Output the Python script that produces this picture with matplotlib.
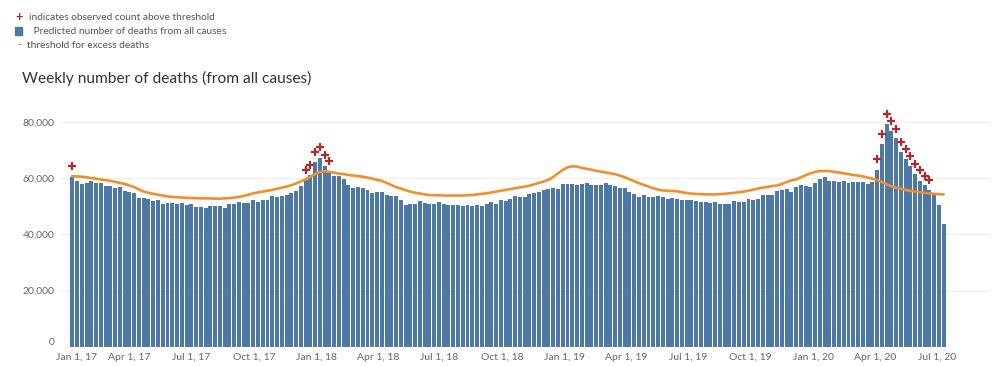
import pandas as pd
import matplotlib
matplotlib.use('Agg')
import matplotlib.pyplot as plt
from matplotlib.patches import Rectangle
from matplotlib.transforms import ScaledTranslation

plt.rcParams['font.family'] = ['Lato', 'DejaVu Sans']

# weekly data, week ending dates starting here (values in thousands)
first_week = '2017-01-07'

predicted = [
    60.5, 59.1, 57.9, 58.4, 59.0, 58.4, 58.2, 57.1, 57.3, 56.5,
    56.8, 55.4, 55.0, 54.7, 52.9, 53.1, 52.6, 51.9, 52.3, 50.8,
    51.0, 51.2, 50.8, 51.0, 50.5, 50.8, 49.7, 49.9, 49.3, 50.0,
    50.0, 50.0, 49.4, 50.7, 50.7, 51.5, 51.0, 51.3, 52.1, 51.6,
    52.1, 52.3, 53.6, 53.2, 53.6, 53.9, 54.7, 55.4, 57.2, 59.3,
    61.1, 65.7, 67.0, 64.4, 62.5, 60.9, 60.9, 59.6, 57.4, 56.6,
    56.9, 56.4, 55.8, 54.8, 55.2, 54.9, 53.9, 53.5, 53.5, 52.2,
    50.4, 50.7, 50.7, 51.7, 51.2, 50.9, 50.7, 51.5, 50.9, 50.4,
    50.6, 50.4, 50.2, 50.3, 50.2, 50.3, 50.2, 50.9, 51.4, 50.7,
    52.2, 51.7, 52.6, 53.5, 53.3, 53.3, 54.4, 54.6, 54.9, 55.8,
    56.2, 56.4, 56.0, 57.9, 57.9, 57.9, 57.7, 57.9, 58.1, 57.7,
    57.7, 57.7, 58.1, 57.7, 57.2, 56.5, 56.4, 55.2, 54.2, 53.4,
    53.9, 53.4, 53.4, 53.5, 53.4, 52.6, 53.0, 52.6, 52.1, 52.1,
    52.2, 51.7, 51.5, 51.5, 51.2, 51.4, 50.7, 50.7, 50.9, 51.7,
    51.5, 51.5, 52.5, 52.3, 52.7, 54.1, 53.9, 53.9, 55.4, 55.8,
    56.0, 55.2, 56.7, 57.4, 57.3, 56.9, 58.1, 59.7, 60.3, 59.0,
    59.1, 58.7, 59.1, 58.4, 58.5, 58.5, 58.7, 57.8, 58.7,
    63.0, 72.0, 79.1, 76.7, 74.1, 69.4, 66.7, 64.3, 61.5, 59.1,
    57.4, 55.7, 54.2, 50.4, 43.7,
]

threshold = [
    60.7, 60.6, 60.5, 60.3, 60.0, 59.8, 59.5, 59.3, 59.0, 58.7,
    58.3, 57.9, 57.4, 56.8, 56.0, 55.2, 54.8, 54.4, 54.1, 53.8,
    53.5, 53.3, 53.2, 53.1, 53.0, 52.9, 52.9, 52.8, 52.8, 52.8,
    52.7, 52.7, 52.8, 52.9, 53.1, 53.3, 53.7, 54.1, 54.6, 54.9,
    55.2, 55.5, 55.8, 56.2, 56.6, 57.0, 57.5, 58.1, 58.8, 59.6,
    60.5, 61.4, 62.2, 62.4, 62.2, 61.9, 61.6, 61.4, 61.1, 60.9,
    60.7, 60.5, 60.2, 59.8, 59.4, 59.0, 58.3, 57.6, 56.8, 56.3,
    55.7, 55.2, 54.8, 54.5, 54.2, 54.0, 53.9, 53.9, 53.8, 53.8,
    53.8, 53.8, 53.8, 53.9, 54.0, 54.2, 54.4, 54.6, 54.9, 55.2,
    55.5, 55.8, 56.1, 56.4, 56.7, 57.0, 57.3, 57.8, 58.3, 58.8,
    59.4, 60.4, 61.7, 62.9, 63.8, 64.2, 64.1, 63.6, 63.3, 63.0,
    62.6, 62.3, 62.0, 61.7, 61.4, 60.9, 60.3, 59.6, 58.9, 58.2,
    57.6, 57.0, 56.4, 55.9, 55.6, 55.5, 55.4, 55.3, 55.0, 54.7,
    54.5, 54.4, 54.3, 54.2, 54.2, 54.2, 54.3, 54.4, 54.6, 54.8,
    55.0, 55.2, 55.5, 55.9, 56.3, 56.6, 56.9, 57.2, 57.4, 57.9,
    58.6, 59.2, 59.5, 60.3, 61.0, 61.7, 62.2, 62.5, 62.5, 62.5,
    62.2, 62.0, 61.7, 61.4, 61.1, 60.9, 60.6, 60.2, 59.8, 59.3,
    58.6, 57.8, 57.1, 56.6, 56.2, 55.8, 55.5, 55.2, 55.0, 54.8,
    54.6, 54.4, 54.3, 54.2,
]

# observed counts above threshold
obs_weeks = ['2017-01-07', '2017-12-16', '2017-12-23', '2017-12-30', '2018-01-06',
             '2018-01-13', '2018-01-20', '2020-04-04', '2020-04-11', '2020-04-18',
             '2020-04-25', '2020-05-02', '2020-05-09', '2020-05-16', '2020-05-23',
             '2020-05-30', '2020-06-06', '2020-06-13', '2020-06-20']
obs_values = [64.3, 62.9, 64.7, 69.4, 70.9, 68.2, 66.0, 66.7, 75.7, 82.8,
              80.4, 77.4, 72.9, 70.3, 68.0, 65.1, 62.8, 60.9, 59.2]

y_ticks = [0, 20000, 40000, 60000, 80000]
x_ticks = ['2017-01-01', '2017-04-01', '2017-07-01', '2017-10-01',
           '2018-01-01', '2018-04-01', '2018-07-01', '2018-10-01',
           '2019-01-01', '2019-04-01', '2019-07-01', '2019-10-01',
           '2020-01-01', '2020-04-01', '2020-07-01']

blue = '#4e79a7'
orange = '#f28e2b'
red = '#b3282d'
grey = '#666666'

weeks = pd.date_range(first_week, periods=len(predicted), freq='7D')
pred = [v * 1000 for v in predicted]
thr = [v * 1000 for v in threshold]
obs = [v * 1000 for v in obs_values]
obs_dates = pd.to_datetime(obs_weeks)
tick_dates = pd.to_datetime(x_ticks)

fig = plt.figure(figsize=(10, 3.66), dpi=100)
ax = fig.add_axes([0.06, 0.052, 0.93, 0.669])

ax.bar(weeks, pred, width=5.8, color=blue, zorder=2)
ax.plot(weeks, thr, color=orange, lw=1.9, zorder=3, solid_capstyle='round')
ax.plot(obs_dates, obs, '+', color=red, ms=5.5, mew=1.6, zorder=4)

ax.set_ylim(0, 87000)
ax.set_xlim(pd.Timestamp('2016-12-20'), pd.Timestamp('2020-09-17'))

ax.set_yticks(y_ticks)
ax.set_yticklabels([f'{v:,}' for v in y_ticks])
ax.set_xticks(tick_dates)
ax.set_xticklabels([d.strftime('%b 1, %y') for d in tick_dates])
ax.tick_params(length=0, labelsize=7.5, labelcolor=grey, pad=4)
ax.get_yticklabels()[0].set_va('bottom')
# first date label sits a little right, as in the original
first_lbl = ax.get_xticklabels()[0]
first_lbl.set_transform(first_lbl.get_transform() + ScaledTranslation(8 / 100, 0, fig.dpi_scale_trans))
ax.grid(axis='y', color='#eeeeee', lw=0.8, zorder=0)
for s in ax.spines.values():
    s.set_visible(False)

# legend at top left
def fx(px):
    return px / 1000

def fy(py):
    return 1 - py / 366

fig.text(fx(19), fy(17), '+', color=red, fontsize=9, fontweight='bold', ha='center', va='center')
fig.text(fx(29), fy(17), 'indicates observed count above threshold', color='#555555', fontsize=7.3, va='center')
fig.add_artist(Rectangle((fx(15), fy(35)), 7 / 1000, 8 / 366, transform=fig.transFigure, color=blue))
fig.text(fx(31), fy(31), ' Predicted number of deaths from all causes', color='#555555', fontsize=7.3, va='center')
fig.text(fx(19), fy(45), '-', color=orange, fontsize=8, fontweight='bold', ha='center', va='center')
fig.text(fx(27), fy(45), 'threshold for excess deaths', color='#555555', fontsize=7.3, va='center')

fig.text(fx(22), fy(78), 'Weekly number of deaths (from all causes)', color='#333333', fontsize=11.2, va='center')

fig.savefig('out.png', dpi=100)
